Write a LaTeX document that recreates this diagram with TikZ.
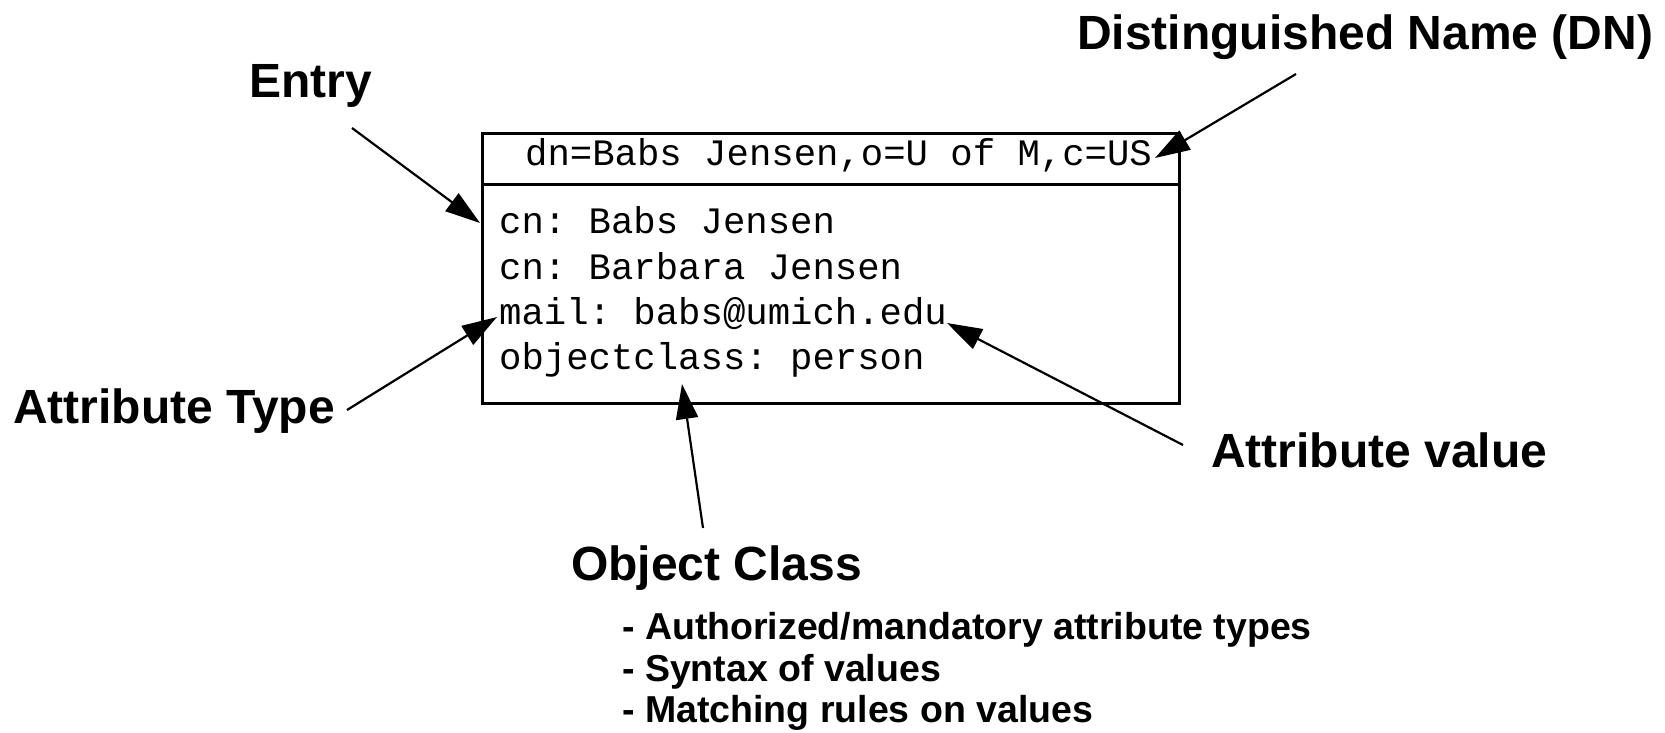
\documentclass[tikz,border=0pt]{standalone}
\usepackage{fontspec}
\setmainfont{Liberation Sans}
\setmonofont{Liberation Mono}
\usetikzlibrary{arrows.meta}
\begin{document}
\begin{tikzpicture}[x=1pt,y=-1pt,
  lbl/.style={font=\fontsize{48}{57}\selectfont\bfseries, inner sep=0, anchor=base west},
  bul/.style={font=\fontsize{37.5}{45}\selectfont\bfseries, inner sep=0, anchor=base west},
  mono/.style={font=\fontsize{37.3}{44}\selectfont\ttfamily, inner sep=0, anchor=base west},
  conn/.style={line width=2.2pt, -{Triangle[length=35pt,width=22pt]}},
  frame/.style={draw, line width=3pt}]
\useasboundingbox (0,0) rectangle (1665,733);

% entry box
\node[frame, minimum width=697pt, minimum height=270pt, inner sep=0, anchor=north west] (box) at (481,132) {};
\coordinate (divL) at (481,184);
\coordinate (divR) at (1178,184);
\draw[line width=3pt] (divL) -- (divR);

\node[mono] (dn) at (525,165) {dn=Babs Jensen,o=U of M,c=US};
\node[mono] (l1) at (499,233) {cn: Babs Jensen};
\node[mono] (l2) at (499,279) {cn: Barbara Jensen};
\node[mono] (l3) at (499,324) {mail: babs@umich.edu};
\node[mono] (l4) at (499,369) {objectclass: person};

% labels
\node[lbl] (entry) at (249,98) {Entry};
\node[lbl] (dnlbl) at (1077,50) {Distinguished Name (DN)};
\node[lbl] (atype) at (13,423) {Attribute Type};
\node[lbl] (aval) at (1211,467) {Attribute value};
\node[lbl] (oc) at (571,580) {Object Class};

\node[bul] (b1) at (622,639) {- Authorized/mandatory attribute types};
\node[bul] (b2) at (622,681) {- Syntax of values};
\node[bul] (b3) at (622,722) {- Matching rules on values};

% connector ends
\coordinate (eS) at (352,128);  \coordinate (eT) at (480,223);
\coordinate (dS) at (1296,74);  \coordinate (dT) at (1155,158);
\coordinate (tS) at (347,410);  \coordinate (tT) at (497,317);
\coordinate (vS) at (1183,445); \coordinate (vT) at (947,323);
\coordinate (oS) at (703,528);  \coordinate (oT) at (682,384);

\draw[conn] (eS) -- (eT);
\draw[conn] (dS) -- (dT);
\draw[conn] (tS) -- (tT);
\draw[conn] (vS) -- (vT);
\draw[conn] (oS) -- (oT);
\end{tikzpicture}
\end{document}
